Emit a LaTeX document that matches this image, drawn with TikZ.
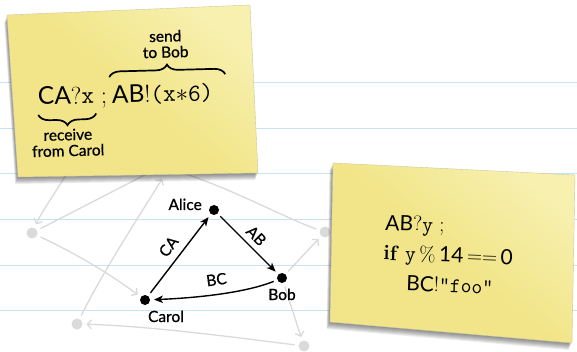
\documentclass[tikz,border=0pt]{standalone}
\usepackage{fontspec}
\setsansfont{Lato}
\newfontfamily\labfont{Lato}[FakeBold=0.7]
\usetikzlibrary{arrows.meta,decorations.pathreplacing}
\definecolor{paperline}{RGB}{198,228,246}
\definecolor{notey}{RGB}{242,229,137}
\definecolor{noteylight}{RGB}{247,240,175}
\definecolor{ghost}{RGB}{218,218,218}
\definecolor{noteedge}{RGB}{205,200,160}
\begin{document}
\begin{tikzpicture}[x=1pt,y=-1pt,
  dot/.style={circle,fill=black,inner sep=0pt,minimum size=10pt,outer sep=4pt},
  gdot/.style={circle,fill=ghost,inner sep=0pt,minimum size=11pt,outer sep=4pt},
  gline/.style={draw=ghost,line width=1.3pt},
  gedge/.style={gline,-{Straight Barb[length=4pt,width=9pt]}},
  bedge/.style={draw=black,line width=1.4pt,-{Stealth[length=9pt,width=7.5pt,inset=2.5pt]}},
  lab/.style={font=\labfont\fontsize{15.5}{17}\selectfont,inner sep=1pt},
  elab/.style={font=\labfont\fontsize{15.5}{17}\selectfont,inner sep=0.5pt,sloped},
  notefill/.style={top color=noteylight,bottom color=notey,middle color=notey,shading angle=-40,draw=noteedge,line width=0.4pt},
  codeA/.style={font=\fontsize{24.5}{28}\selectfont,inner sep=0pt,anchor=base west},
  codeB/.style={font=\fontsize{21}{26}\selectfont,inner sep=0pt,anchor=base west},
  bracestyle/.style={decorate,decoration={brace,amplitude=11pt},line width=1.7pt},
  small/.style={font=\labfont\fontsize{15.5}{16}\selectfont,align=center,inner sep=0pt}
  ]
\useasboundingbox (0,0) rectangle (577,352);
\fill[white] (0,0) rectangle (577,352);
\foreach \yy in {83,128.5,174,219.5,265,310.5}
  \draw[paperline,line width=1pt] (0,\yy) -- (577,\yy);

% ghost graph
\node[gdot] (g1) at (32,233) {};
\node[gdot] (g2) at (77,324) {};
\node[gdot] (g3) at (325,232) {};
\node[gdot] (g4) at (304,346) {};
\node[dot] (alice) at (214,210) {};
\node[dot] (bob) at (282,278) {};
\node[dot] (carol) at (145,300) {};
\coordinate (h1) at (80,150);
\coordinate (h2) at (170,162);
\coordinate (h3) at (162,179);
\coordinate (h4) at (180,172);
\draw[gedge] (h1) .. controls (62,185) and (45,205) .. (g1);
\draw[gline] (g1) -- (h2);
\draw[gedge] (g1) .. controls (85,258) and (115,278) .. (carol);
\draw[gedge] (g2) .. controls (105,268) and (140,215) .. (h3);
\draw[gedge] (g4) .. controls (240,338) and (150,326) .. (g2);
\draw[gedge] (bob) -- (g3);
\draw[gedge] (bob) -- (g4);
\draw[gline] (g3) .. controls (285,218) and (235,190) .. (h4);

% note 1
\foreach \i in {1,...,7}
  \fill[black,opacity=0.075,xshift={-0.4pt*\i},yshift={-1pt*\i}] (7,15) -- (250,5) -- (258,173) -- (18,177) -- cycle;
\path[notefill] (7,15) -- (250,5) -- (258,173) -- (18,177) -- cycle;

\begin{scope}[rotate around={1.5:(38,105)},transform shape]
  \node[codeA] (ca) at (38,105) {\textsf{CA}?\texttt{x}};
  \node[codeA] (semi) at (101,105) {;};
  \node[codeA] (ab) at (112,105) {\textsf{AB}!\texttt{(x}{\fontsize{30}{30}\selectfont$\ast$}\texttt{6)}};
  \coordinate (b1a) at (110,79);
  \coordinate (b1b) at (226,79);
  \coordinate (b2a) at (96,115);
  \coordinate (b2b) at (38,115);
  \draw[bracestyle] (b1a) -- (b1b);
  \draw[bracestyle] (b2a) -- (b2b);
  \node[small,anchor=base] (send) at (167,61) {send\\to Bob};
  \node[small,anchor=base] (recv) at (67,157) {receive\\from Carol};
\end{scope}

% note 2
\foreach \i in {1,...,7}
  \fill[black,opacity=0.075,xshift={-0.5pt*\i},yshift={-1pt*\i}] (333,163) -- (575,175) -- (572,343) -- (330,322) -- cycle;
\path[notefill] (333,163) -- (575,175) -- (572,343) -- (330,322) -- cycle;
\begin{scope}[rotate around={-2:(385,230)},transform shape]
  \node[codeB] (l1) at (385,230) {\textsf{AB}?\texttt{y} ;};
  \node[codeB] (l2) at (384,260) {\textbf{if} \texttt{y}\,\%\,\textsf{14}\,==\,\textsf{0}};
  \node[codeB] (l3) at (408,290) {\textsf{BC}!\texttt{"foo"}};
\end{scope}

% main graph
\draw[bedge] (carol) -- node[elab,above=7pt] (lca) {CA} (alice);
\draw[bedge] (alice) -- node[elab,above=5pt] (lab) {AB} (bob);
\draw[bedge] (bob) .. controls (245,293) and (195,298) .. node[elab,above=8pt] (lbc) {BC} (carol);
\node[lab,anchor=base east] (alicel) at (203,210) {Alice};
\node[lab,anchor=base] (bobl) at (282,300) {Bob};
\node[lab,anchor=base] (carell) at (166,322) {Carol};
\end{tikzpicture}
\end{document}
